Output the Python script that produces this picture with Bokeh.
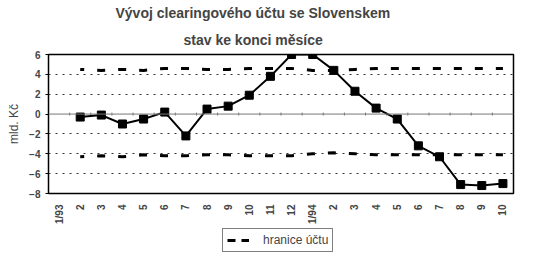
import numpy as np
from bokeh.plotting import figure
from bokeh.layouts import column
from bokeh.models import (Range1d, FixedTicker, Span, Title, Legend, LegendItem)
from bokeh.embed import file_html
from bokeh.resources import INLINE

categories = ["1/93", "2", "3", "4", "5", "6", "7", "8", "9", "10", "11", "12",
              "1/94", "2", "3", "4", "5", "6", "7", "8", "9", "10"]
balance = [np.nan, -0.3, -0.1, -1.0, -0.5, 0.2, -2.2, 0.5, 0.8, 1.9, 3.8, 6.0,
           6.0, 4.4, 2.3, 0.6, -0.5, -3.2, -4.3, -7.1, -7.2, -7.0]
upper_limit = [np.nan, 4.5, 4.4, 4.5, 4.4, 4.6, 4.6, 4.5, 4.5, 4.6, 4.6, 4.6,
               4.4, 4.4, 4.5, 4.6, 4.6, 4.6, 4.6, 4.6, 4.6, 4.6]
lower_limit = [np.nan, -4.3, -4.2, -4.3, -4.1, -4.2, -4.2, -4.1, -4.1, -4.2, -4.2, -4.2,
               -4.0, -3.9, -4.0, -4.1, -4.1, -4.1, -4.1, -4.1, -4.1, -4.1]
y_ticks = [-8, -6, -4, -2, 0, 2, 4, 6]
title_lines = ["Vývoj clearingového účtu se Slovenskem", "stav ke konci měsíce"]
legend_label = "hranice účtu"

FONT = "Liberation Sans"
x = list(range(len(categories)))

p = figure(width=540, height=226, output_backend="svg", toolbar_location=None,
           x_range=Range1d(-0.5, len(categories) - 0.5), y_range=Range1d(-8, 6),
           min_border_left=48, min_border_right=27, min_border_top=8, min_border_bottom=32)
p.outline_line_color = "black"
p.outline_line_width = 1.5
p.background_fill_color = "white"
p.border_fill_color = "white"

p.title.text = title_lines[0]
p.title.align = "left"
p.title.offset = 67
p.title.text_font = FONT
p.title.text_font_size = "14px"
p.title.text_font_style = "bold"
p.title.standoff = 4
t2 = Title(text=title_lines[1], align="left", offset=135, text_font=FONT,
           text_font_size="14px", text_font_style="bold", standoff=14)
p.add_layout(t2, "above")

p.xgrid.visible = False
p.ygrid.ticker = FixedTicker(ticks=[-6, -4, -2, 2, 4])
p.ygrid.grid_line_color = "#333333"
p.ygrid.grid_line_dash = "2 5"
p.ygrid.grid_line_width = 1.2

p.add_layout(Span(location=0, dimension="width", line_color="#777777", line_width=1))
xs = np.array(x, dtype=float) + 0.5
p.segment(x0=xs[:-1], y0=[-0.15] * (len(xs) - 1), x1=xs[:-1], y1=[0.15] * (len(xs) - 1),
          line_color="#777777", line_width=1)

# y axis
p.yaxis.ticker = FixedTicker(ticks=y_ticks)
p.yaxis.axis_label = "mld. Kč"
p.yaxis.axis_label_text_font = FONT
p.yaxis.axis_label_text_font_style = "normal"
p.yaxis.axis_label_text_font_size = "12px"
p.yaxis.major_label_text_font = FONT
p.yaxis.major_label_text_font_size = "10px"
p.yaxis.major_label_text_font_style = "bold"
p.yaxis.axis_line_color = None
p.yaxis.major_tick_out = 3
p.yaxis.major_tick_in = 0
p.yaxis.minor_tick_line_color = None

# x axis
p.xaxis.ticker = FixedTicker(ticks=x)
p.xaxis.major_label_overrides = {i: c for i, c in enumerate(categories)}
p.xaxis.major_label_orientation = np.pi / 2
p.xaxis.major_label_text_font = FONT
p.xaxis.major_label_text_font_size = "10px"
p.xaxis.major_label_text_font_style = "bold"
p.xaxis.major_tick_line_color = None
p.xaxis.minor_tick_line_color = None
p.xaxis.axis_line_color = None

p.line(x, upper_limit, line_color="black", line_width=3, line_dash="8 13", line_dash_offset=4)
p.line(x, lower_limit, line_color="black", line_width=3, line_dash="8 13", line_dash_offset=4)

p.line(x, balance, line_color="black", line_width=2)
p.scatter(x, balance, marker="square", size=8, color="black")

# legend in a separate strip below
lf = figure(width=540, height=33, output_backend="svg", toolbar_location=None,
            x_range=Range1d(0, 1), y_range=Range1d(0, 1),
            x_axis_location=None, y_axis_location=None,
            min_border=0, min_border_left=0, min_border_right=0,
            min_border_top=0, min_border_bottom=0)
lf.grid.visible = False
lf.outline_line_color = None
lf.border_fill_color = "white"
dummy = lf.line([np.nan, np.nan], [np.nan, np.nan], line_color="black", line_width=3,
                line_dash="8 6")
leg = Legend(items=[LegendItem(label=legend_label, renderers=[dummy])],
             location=(174, 7), orientation="horizontal",
             label_text_font=FONT, label_text_font_size="12px",
             border_line_color="black", border_line_width=1,
             glyph_width=22, glyph_height=12, padding=4, margin=0, spacing=0,
             label_standoff=14, label_height=12)
lf.add_layout(leg)

open("out.html", "w").write(file_html(column(p, lf, spacing=0), INLINE))
